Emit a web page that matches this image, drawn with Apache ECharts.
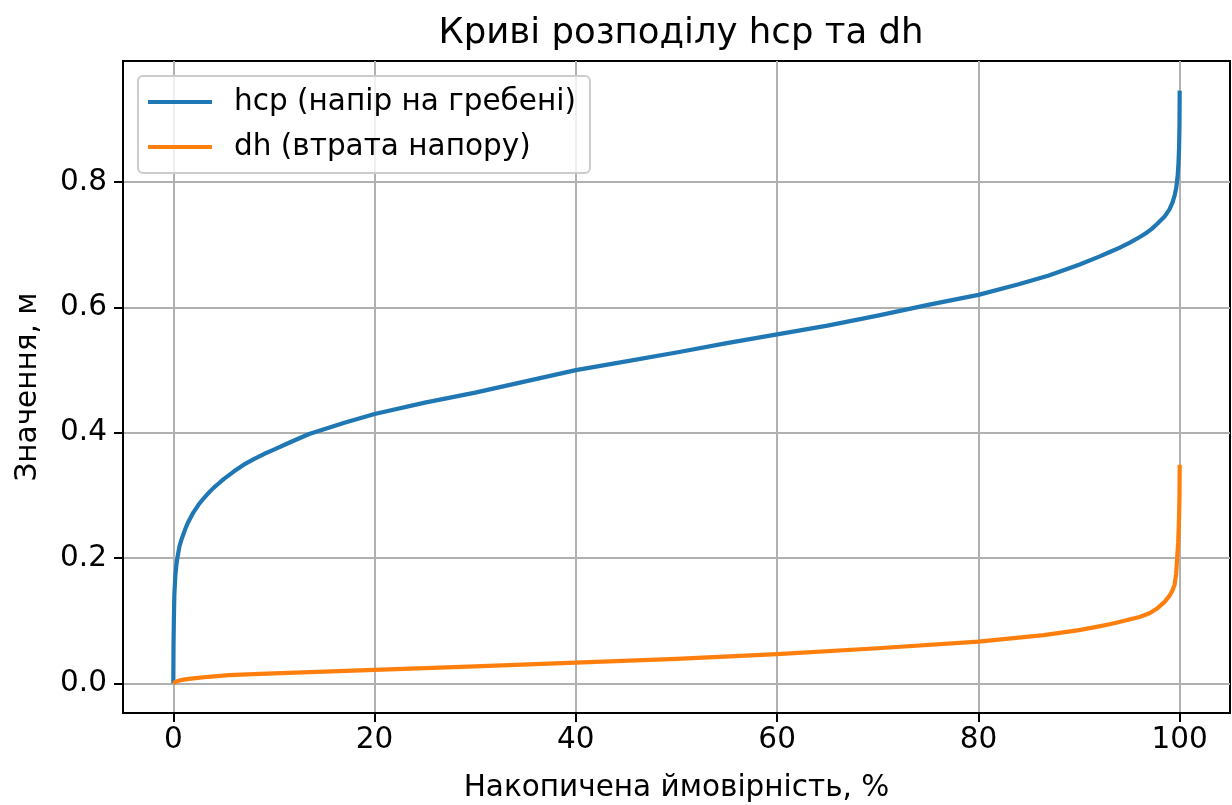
<!DOCTYPE html>
<html>
<head>
<meta charset="utf-8">
<script src="https://cdn.jsdelivr.net/npm/echarts@6/dist/echarts.min.js"></script>
<style>
  html, body { margin: 0; padding: 0; background: #ffffff; }
  #chart { width: 1232px; height: 805px; }
</style>
</head>
<body>
<div id="chart"></div>
<script>
// Cumulative probability (%) and sorted values for the crest head hcp
const hcpProb = [0, 0.02, 0.05, 0.1, 0.2, 0.3, 0.4, 0.6, 0.8, 1.0, 1.25, 1.5, 2.0, 2.5, 3.0, 3.5, 4.0, 4.5, 5.0, 6.0, 7.0, 8.0, 9.0, 10, 11.5, 13.5, 17, 20, 25, 30, 35, 40, 45, 50, 55, 60, 65, 70, 75, 80, 84, 87, 90, 92, 93, 94, 95, 96, 96.6, 97.2, 97.8, 98.5, 99.0, 99.3, 99.5, 99.65, 99.8, 99.88, 99.94, 99.98, 100];
const hcpValues = [0, 0.06, 0.095, 0.14, 0.172, 0.188, 0.2, 0.218, 0.229, 0.238, 0.249, 0.258, 0.273, 0.285, 0.295, 0.304, 0.312, 0.319, 0.326, 0.338, 0.349, 0.358, 0.366, 0.373, 0.384, 0.398, 0.416, 0.43, 0.448, 0.464, 0.482, 0.5, 0.514, 0.528, 0.543, 0.557, 0.571, 0.587, 0.604, 0.62, 0.637, 0.651, 0.668, 0.681, 0.688, 0.695, 0.703, 0.712, 0.718, 0.725, 0.734, 0.745, 0.757, 0.768, 0.779, 0.79, 0.81, 0.83, 0.855, 0.89, 0.946];

// Cumulative probability (%) and sorted values for the head loss dh
const dhProb = [0, 0.1, 0.3, 0.6, 1.0, 2.0, 3.5, 5.5, 8, 10, 20, 30, 40, 50, 60, 70, 80, 86.5, 90, 92, 93.5, 95, 96, 97, 97.8, 98.5, 99.0, 99.3, 99.5, 99.65, 99.75, 99.85, 99.93, 99.98, 100];
const dhValues = [0, 0.002, 0.003, 0.0045, 0.006, 0.008, 0.0105, 0.013, 0.0148, 0.016, 0.0215, 0.027, 0.033, 0.039, 0.0468, 0.056, 0.0665, 0.077, 0.085, 0.091, 0.096, 0.102, 0.106, 0.112, 0.12, 0.13, 0.14, 0.149, 0.158, 0.175, 0.2, 0.225, 0.26, 0.3, 0.349];

const xTicks = [0, 20, 40, 60, 80, 100];
const yTicks = [0, 0.2, 0.4, 0.6, 0.8];

const seriesNames = ['hcp (напір на гребені)', 'dh (втрата напору)'];
const seriesColors = ['#1f77b4', '#ff7f0e'];

const FONT = 'DejaVu Sans';
const FS = 29.5;

function pairs(xs, ys) {
  return xs.map((x, i) => [x, ys[i]]);
}

const chart = echarts.init(document.getElementById('chart'), null, { renderer: 'canvas' });

chart.setOption({
  animation: false,
  backgroundColor: '#ffffff',
  textStyle: { fontFamily: FONT, color: '#000000' },
  title: {
    text: 'Криві розподілу hcp та dh',
    left: 676,
    textAlign: 'center',
    top: 11,
    textStyle: { fontFamily: FONT, fontSize: 35.5, fontWeight: 'normal', color: '#000000' }
  },
  legend: {
    orient: 'vertical',
    left: 138,
    top: 76,
    padding: [9, 14, 9, 10],
    itemGap: 11,
    itemWidth: 64,
    itemHeight: 4,
    icon: 'rect',
    backgroundColor: 'rgba(255,255,255,0.8)',
    borderColor: '#cccccc',
    borderWidth: 2,
    borderRadius: 5,
    textStyle: { fontFamily: FONT, fontSize: FS, color: '#000000', padding: [0, 0, 0, 17], lineHeight: 34 },
    data: seriesNames
  },
  grid: {
    left: 123,
    right: 2,
    top: 61,
    bottom: 92,
    containLabel: false,
    outerBoundsMode: 'none',
    show: true,
    borderColor: '#000000',
    borderWidth: 2,
    backgroundColor: 'transparent'
  },
  xAxis: {
    type: 'value',
    min: -5,
    max: 105,
    name: 'Накопичена ймовірність, %',
    nameLocation: 'middle',
    nameGap: 60,
    nameTextStyle: { fontFamily: FONT, fontSize: FS, color: '#000000' },
    axisLine: { show: true, onZero: false, lineStyle: { color: '#000000', width: 2 } },
    axisTick: { show: true, length: 9, lineStyle: { color: '#000000', width: 2 }, customValues: xTicks },
    axisLabel: {
      show: true, margin: 12, fontFamily: FONT, fontSize: FS, color: '#000000',
      customValues: xTicks,
      formatter: v => String(v)
    },
    splitLine: { show: true, lineStyle: { color: '#b0b0b0', width: 2 } }
  },
  yAxis: {
    type: 'value',
    min: -0.0473,
    max: 0.9933,
    name: 'Значення, м',
    nameLocation: 'middle',
    nameGap: 80,
    nameTextStyle: { fontFamily: FONT, fontSize: FS, color: '#000000' },
    axisLine: { show: true, onZero: false, lineStyle: { color: '#000000', width: 2 } },
    axisTick: { show: true, length: 9, lineStyle: { color: '#000000', width: 2 }, customValues: yTicks },
    axisLabel: {
      show: true, margin: 16, fontFamily: FONT, fontSize: FS, color: '#000000',
      customValues: yTicks,
      formatter: v => v.toFixed(1)
    },
    splitLine: { show: true, lineStyle: { color: '#b0b0b0', width: 2 } }
  },
  series: [
    {
      name: seriesNames[0],
      type: 'line',
      data: pairs(hcpProb, hcpValues),
      showSymbol: false,
      smooth: false,
      color: seriesColors[0],
      lineStyle: { width: 4.2, color: seriesColors[0], join: 'round' },
      z: 3
    },
    {
      name: seriesNames[1],
      type: 'line',
      data: pairs(dhProb, dhValues),
      showSymbol: false,
      smooth: false,
      color: seriesColors[1],
      lineStyle: { width: 4.2, color: seriesColors[1], join: 'round' },
      z: 4
    }
  ]
});
</script>
</body>
</html>
